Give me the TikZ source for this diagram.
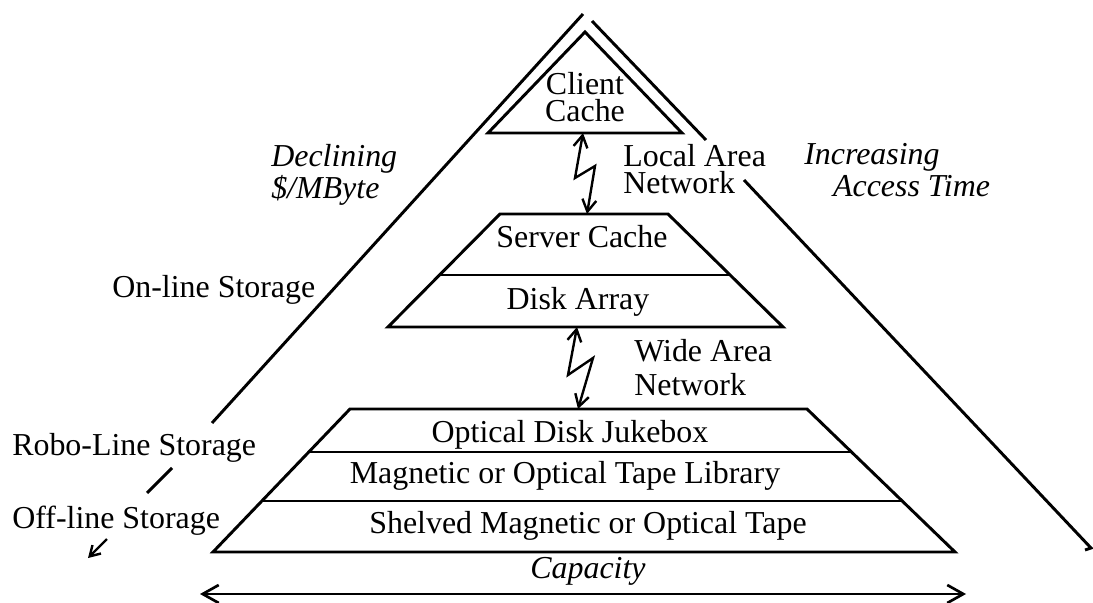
\documentclass[tikz,border=0pt]{standalone}
\usepackage{fontspec}
\setmainfont{Liberation Serif}
\usetikzlibrary{arrows.meta,positioning}
\tikzset{
  edge/.style  = {line width=2.1pt, line join=miter},
  lbl/.style   = {inner sep=0pt, font=\fontsize{22.7}{19.4}\selectfont},
  slant/.style = {inner sep=0pt, font=\fontsize{22.7}{22.5}\selectfont\itshape},
  link/.style  = {line width=1.7pt, line join=miter,
                  {Straight Barb[length=3mm,width=3.5mm]}-{Straight Barb[length=3mm,width=3.5mm]}},
}

\begin{document}
\begin{tikzpicture}[x=0.025cm, y=-0.025cm]
    \useasboundingbox (0,0) rectangle (1093,603);

    % outer pyramid
    \draw[edge] (583,14) -- (212,423);
    \draw[edge] (592,21) -- (706,140);
    \draw[edge] (744,180) -- (1091,548) -- (1085,550);

    % tiers
    \draw[edge] (585,32) -- (682,133) -- (488,133) -- cycle;
    \draw[edge] (500,214) -- (668,214) -- (783,327) -- (388,327) -- cycle;
    \draw[edge] (440,275) -- (729,275);
    \draw[edge] (350,409) -- (807,409) -- (955,552) -- (213,552) -- cycle;
    \draw[edge] (309,452) -- (852,452);
    \draw[edge] (262,501) -- (902,501);

    \coordinate (cbase) at (583,133);
    \coordinate (stop)  at (587,214);
    \coordinate (sbot)  at (577,327);
    \coordinate (jtop)  at (578,409);

    % tier labels
    \node[lbl,anchor=north,align=center] (client) at (585,72) {Client\\Cache};
    \node[lbl,anchor=base] (server) at (582,248) {Server Cache};
    \node[lbl,anchor=base] (disk) at (578,310) {Disk Array};
    \node[lbl,anchor=base] (juke) at (570,442) {Optical Disk Jukebox};
    \node[lbl,anchor=base] (tapelib) at (565,483) {Magnetic or Optical Tape Library};
    \node[lbl,anchor=base] (shelf) at (588,533) {Shelved Magnetic or Optical Tape};

    % networks
    \draw[link] (cbase) -- (575,178) -- (595,166) -- (stop);
    \draw[link] (sbot) -- (568,375) -- (593,358) -- (jtop);
    \node[lbl,anchor=north west,align=left] (lan) at (623,144) {Local Area\\Network};
    \node[lbl,anchor=north west,align=left,font=\fontsize{22.7}{24.2}\selectfont] (wan) at (634,339) {Wide Area\\Network};

    % side labels
    \node[slant,anchor=north west,align=left] (cost) at (271,144) {Declining\\\$/MByte};
    \node[slant,anchor=north west,align=left] (access) at (804,143) {Increasing\\\hspace*{0.72cm}Access Time};
    \node[lbl,anchor=base west] (online) at (112,298) {On-line Storage};
    \node[lbl,anchor=base west] (robo) at (12,455) {Robo-Line Storage};
    \node[lbl,anchor=base west] (offline) at (12,528) {Off-line Storage};
    \coordinate (cut1) at (172,468);
    \coordinate (cut2) at (147,493);
    \draw[edge] (cut1) -- (cut2);
    \coordinate (off1) at (107,539);
    \coordinate (off2) at (88,558);
    \draw[line width=1.7pt,-{Straight Barb[length=2.5mm,width=3mm]}] (off1) -- (off2);

    % capacity
    \node[slant,anchor=base] (cap) at (588,578) {Capacity};
    \coordinate (capl) at (200,594);
    \coordinate (capr) at (966,594);
    \draw[line width=1.9pt,{Straight Barb[length=4mm,width=4.5mm]}-{Straight Barb[length=4mm,width=4.5mm]}] (capl) -- (capr);
\end{tikzpicture}
\end{document}
